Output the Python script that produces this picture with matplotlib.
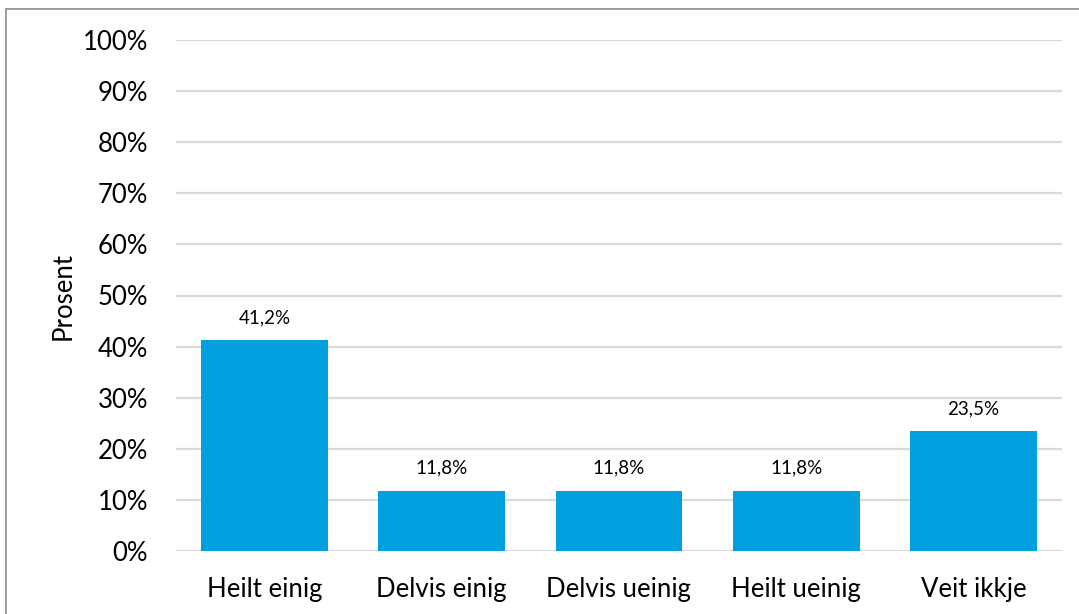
import matplotlib.pyplot as plt
from matplotlib.patches import Rectangle
from matplotlib.ticker import PercentFormatter

# -----------------------------
# Data
# -----------------------------
categories = ["Heilt einig", "Delvis einig", "Delvis ueinig", "Heilt ueinig", "Veit ikkje"]
values = [41.2, 11.8, 11.8, 11.8, 23.5]
y_ticks = list(range(0, 101, 10))

bar_color = "#00A0DF"
grid_color = "#D9D9D9"

plt.rcParams["font.family"] = ["Lato", "DejaVu Sans"]

# -----------------------------
# Figure
# -----------------------------
fig = plt.figure(figsize=(10.79, 6.14), dpi=100)
ax = fig.add_axes([176 / 1079, 1 - 551 / 614, 886 / 1079, 511 / 614])

x = range(len(categories))
bars = ax.bar(x, values, width=0.716, color=bar_color, zorder=3)

for rect, v in zip(bars, values):
    ax.annotate(f"{v:.1f}%".replace(".", ","),
                (rect.get_x() + rect.get_width() / 2, v),
                xytext=(0, 10), textcoords="offset points",
                ha="center", va="bottom", fontsize=13.5, color="#000000")

ax.set_xlim(-0.5, len(categories) - 0.5)
ax.set_ylim(0, 100)
ax.set_yticks(y_ticks)
ax.yaxis.set_major_formatter(PercentFormatter(decimals=0))
ax.set_xticks(list(x))
ax.set_xticklabels(categories)
ax.tick_params(axis="both", length=0, labelsize=18.5, colors="#000000")
ax.tick_params(axis="y", pad=20)
ax.tick_params(axis="x", pad=19)
ax.grid(axis="y", color=grid_color, linewidth=1.6, zorder=0)
for side in ["top", "right", "left", "bottom"]:
    ax.spines[side].set_visible(False)
ax.set_ylabel("Prosent", fontsize=18.5, labelpad=5)

# outer chart border
fig.patches.append(Rectangle((6 / 1079, -0.1), 1.2, 1 - 9 / 614 + 0.1,
                             transform=fig.transFigure, fill=False,
                             edgecolor="#8C8C8C", linewidth=1.2))

fig.savefig("out.png", dpi=100)
